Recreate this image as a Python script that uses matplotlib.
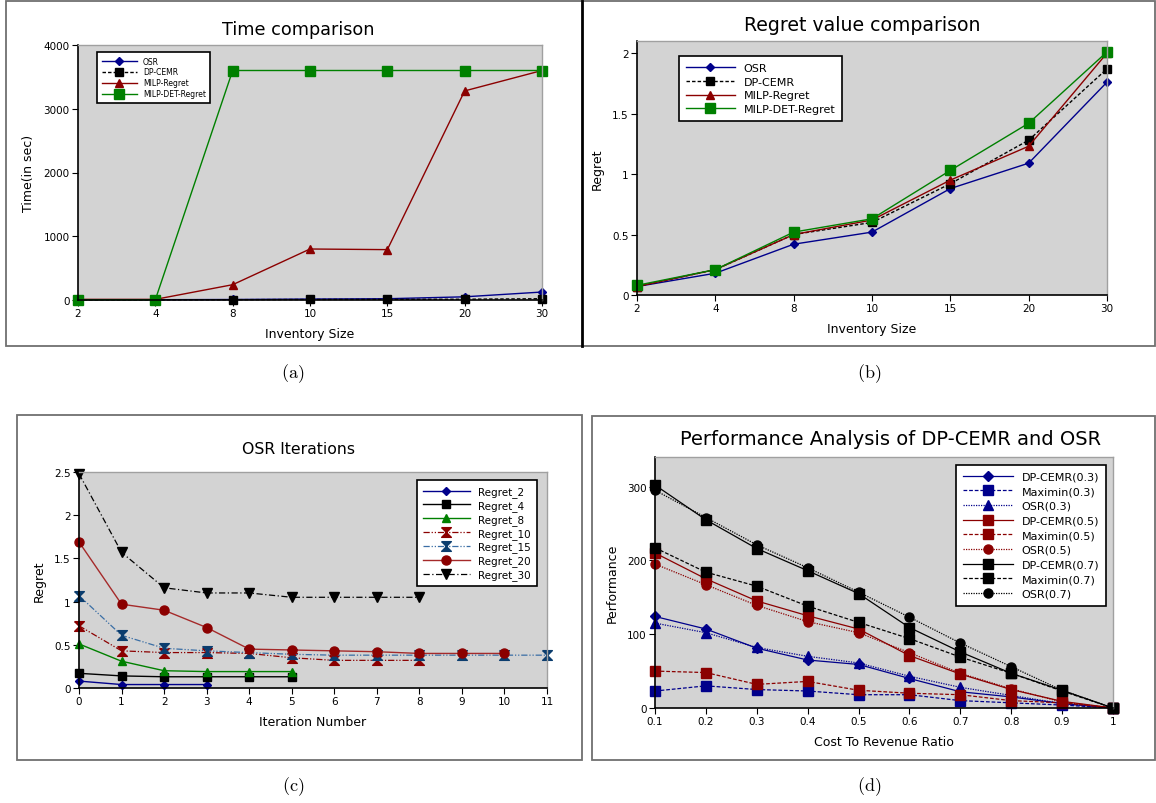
import matplotlib
matplotlib.use("Agg")
import matplotlib.pyplot as plt
from matplotlib.patches import Rectangle
from matplotlib.lines import Line2D

plt.rcParams['font.family'] = ['DejaVu Sans']
plt.rcParams['mathtext.fontset'] = 'cm'

# ---------------- data ----------------
inv_sizes = ["2", "4", "8", "10", "15", "20", "30"]

time_osr = [5, 5, 8, 15, 20, 50, 125]
time_dpcemr = [2, 3, 5, 8, 10, 12, 20]
time_milp = [10, 10, 240, 800, 790, 3280, 3600]
time_milpdet = [5, 5, 3600, 3600, 3600, 3600, 3600]

reg_osr = [0.07, 0.18, 0.42, 0.52, 0.88, 1.09, 1.76]
reg_dpcemr = [0.07, 0.21, 0.50, 0.60, 0.92, 1.28, 1.87]
reg_milp = [0.07, 0.21, 0.50, 0.62, 0.95, 1.23, 2.00]
reg_milpdet = [0.08, 0.21, 0.52, 0.63, 1.03, 1.42, 2.01]

regret_2 = [0.08, 0.04, 0.04, 0.04]
regret_4 = [0.17, 0.14, 0.13, 0.13, 0.13, 0.13]
regret_8 = [0.51, 0.31, 0.20, 0.19, 0.19, 0.19]
regret_10 = [0.72, 0.43, 0.41, 0.41, 0.40, 0.35, 0.32, 0.32, 0.32]
regret_15 = [1.07, 0.61, 0.46, 0.43, 0.41, 0.39, 0.38, 0.38, 0.38, 0.38, 0.38, 0.38]
regret_20 = [1.69, 0.97, 0.90, 0.70, 0.45, 0.44, 0.43, 0.42, 0.40, 0.40, 0.40]
regret_30 = [2.48, 1.57, 1.16, 1.10, 1.10, 1.05, 1.05, 1.05, 1.05]

ratios = [0.1, 0.2, 0.3, 0.4, 0.5, 0.6, 0.7, 0.8, 0.9, 1.0]
ratio_labels = ["0.1", "0.2", "0.3", "0.4", "0.5", "0.6", "0.7", "0.8", "0.9", "1"]
dpcemr_03 = [124, 107, 81, 65, 59, 40, 22, 15, 6, 0]
maximin_03 = [23, 30, 25, 23, 18, 18, 10, 7, 4, 0]
osr_03 = [115, 102, 82, 70, 61, 43, 28, 17, 6, 0]
dpcemr_05 = [210, 175, 145, 125, 107, 71, 46, 25, 9, 0]
maximin_05 = [50, 48, 32, 36, 24, 20, 18, 10, 7, 0]
osr_05 = [195, 167, 139, 117, 102, 75, 47, 26, 8, 0]
dpcemr_07 = [302, 255, 216, 186, 155, 109, 76, 47, 24, 0]
maximin_07 = [217, 184, 165, 138, 116, 94, 69, 47, 23, 0]
osr_07 = [295, 258, 221, 190, 157, 123, 88, 56, 24, 0]

# ---------------- figure ----------------
W, H = 1156, 804
fig = plt.figure(figsize=(W / 100, H / 100), dpi=100)

BG = "#d3d3d3"
NAVY = "#00008b"
DRED = "#8b0000"
GREEN = "#008000"


def px_axes(x0, y0, x1, y1):
    ax = fig.add_axes([x0 / W, 1 - y1 / H, (x1 - x0) / W, (y1 - y0) / H])
    ax.set_facecolor(BG)
    for s in ("top", "right"):
        ax.spines[s].set_color("#a0a0a0")
        ax.spines[s].set_linewidth(1.0)
    for s in ("left", "bottom"):
        ax.spines[s].set_color("black")
        ax.spines[s].set_linewidth(1.2)
    ax.tick_params(direction="out", length=4, width=0.8, labelsize=7.5, pad=2)
    return ax


def fx(x):
    return x / W


def fy(y):
    return 1 - y / H


# panel frames
fig.patches.append(Rectangle((fx(6), fy(347)), (1155 - 6) / W, (347 - 2) / H,
                             transform=fig.transFigure, fill=False, edgecolor="#707070", lw=1.3))
fig.lines.append(Line2D([fx(582), fx(582)], [fy(2), fy(347)], transform=fig.transFigure,
                        color="black", lw=2))
fig.patches.append(Rectangle((fx(17), fy(761)), (582 - 17) / W, (761 - 416) / H,
                             transform=fig.transFigure, fill=False, edgecolor="#707070", lw=1.3))
fig.patches.append(Rectangle((fx(592), fy(761)), (1155 - 592) / W, (761 - 417) / H,
                             transform=fig.transFigure, fill=False, edgecolor="#707070", lw=1.3))


def legend(ax, x, y, fs, hl, loc="upper left", ls=0.25):
    lg = ax.legend(loc=loc, bbox_to_anchor=(fx(x), fy(y)), bbox_transform=fig.transFigure,
                   fontsize=fs, handlelength=hl, frameon=True, fancybox=False,
                   borderpad=0.6, labelspacing=ls, handletextpad=0.8, borderaxespad=0)
    fr = lg.get_frame()
    fr.set_edgecolor("black")
    fr.set_linewidth(1.2)
    fr.set_facecolor("white")
    fr.set_alpha(1)
    return lg


# ---------------- (a) ----------------
axa = px_axes(78, 46, 542, 301)
xa = list(range(len(inv_sizes)))
axa.plot(xa, time_osr, color=NAVY, lw=1, marker="D", ms=4.5, label="OSR", clip_on=False)
axa.plot(xa, time_dpcemr, color="black", lw=1, ls=(0, (2.5, 1.5)), marker="s", ms=6,
         label="DP-CEMR", clip_on=False)
axa.plot(xa, time_milp, color=DRED, lw=1, marker="^", ms=6, label="MILP-Regret", clip_on=False)
axa.plot(xa, time_milpdet, color=GREEN, lw=1, marker="s", ms=6.5, label="MILP-DET-Regret",
         clip_on=False)
axa.set_xlim(0, 6)
axa.set_ylim(0, 4000)
axa.set_xticks(xa)
axa.set_xticklabels(inv_sizes)
axa.set_yticks([0, 1000, 2000, 3000, 4000])
axa.set_xlabel("Inventory Size", fontsize=9, labelpad=6)
axa.set_ylabel("Time(in sec)", fontsize=9, labelpad=6)
axa.set_title("Time comparison", fontsize=12.7, pad=8, x=0.475)
legend(axa, 97, 53, 5.5, 4.6)

# ---------------- (b) ----------------
axb = px_axes(637, 42, 1107, 296)
axb.plot(xa, reg_osr, color=NAVY, lw=1, marker="D", ms=4.5, label="OSR", clip_on=False)
axb.plot(xa, reg_dpcemr, color="black", lw=1, ls=(0, (2.5, 1.5)), marker="s", ms=6,
         label="DP-CEMR", clip_on=False)
axb.plot(xa, reg_milp, color=DRED, lw=1, marker="^", ms=6, label="MILP-Regret", clip_on=False)
axb.plot(xa, reg_milpdet, color=GREEN, lw=1, marker="s", ms=6.5, label="MILP-DET-Regret",
         clip_on=False)
axb.set_xlim(0, 6)
axb.set_ylim(0, 2.1)
axb.set_xticks(xa)
axb.set_xticklabels(inv_sizes)
axb.set_yticks([0, 0.5, 1, 1.5, 2])
axb.set_yticklabels(["0", "0.5", "1", "1.5", "2"])
axb.set_xlabel("Inventory Size", fontsize=9, labelpad=6)
axb.set_ylabel("Regret", fontsize=9, labelpad=6)
axb.set_title("Regret value comparison", fontsize=13.6, pad=8, x=0.48)
legend(axb, 679, 57, 8, 4.4, ls=0.35)

# ---------------- (c) ----------------
axc = px_axes(79, 473, 547, 689)
hour = [(-1, 1), (1, 1), (-1, -1), (1, -1), (-1, 1)]
axc.plot(range(len(regret_2)), regret_2, color=NAVY, lw=1, marker="D", ms=4.5,
         label="Regret_2", clip_on=False)
axc.plot(range(len(regret_4)), regret_4, color="black", lw=1, marker="s", ms=6,
         label="Regret_4", clip_on=False)
axc.plot(range(len(regret_8)), regret_8, color=GREEN, lw=1, marker="^", ms=6,
         label="Regret_8", clip_on=False)
axc.plot(range(len(regret_10)), regret_10, color=DRED, lw=0.9, ls=(0, (5, 1.5, 1, 1.5, 1, 1.5)),
         marker=hour, ms=7, label="Regret_10", clip_on=False)
axc.plot(range(len(regret_15)), regret_15, color="#3a6ea5", lw=0.9,
         ls=(0, (5, 1.5, 1, 1.5, 1, 1.5)), marker=hour, ms=7, mfc="#0b3d6e", mec="#0b3d6e",
         label="Regret_15", clip_on=False)
axc.plot(range(len(regret_20)), regret_20, color="#a52a2a", lw=1, marker="o", ms=6.5,
         mfc=DRED, mec=DRED, label="Regret_20", clip_on=False)
axc.plot(range(len(regret_30)), regret_30, color="black", lw=0.9, ls=(0, (5, 2, 1, 2)),
         marker="v", ms=6.5, label="Regret_30", clip_on=False)
axc.set_xlim(0, 11)
axc.set_ylim(0, 2.5)
axc.set_xticks(range(12))
axc.set_yticks([0, 0.5, 1, 1.5, 2, 2.5])
axc.set_yticklabels(["0", "0.5", "1", "1.5", "2", "2.5"])
axc.set_xlabel("Iteration Number", fontsize=9, labelpad=6)
axc.set_ylabel("Regret", fontsize=9, labelpad=6)
axc.set_title("OSR Iterations", fontsize=11.3, pad=14, x=0.47)
legend(axc, 537, 481, 7.5, 4.5, loc="upper right", ls=0.28)

# ---------------- (d) ----------------
axd = px_axes(655, 458, 1113, 709)
series_d = [
    (dpcemr_03, "DP-CEMR(0.3)", NAVY, "-", "D", 5),
    (maximin_03, "Maximin(0.3)", NAVY, (0, (3, 1.5)), "s", 6.5),
    (osr_03, "OSR(0.3)", NAVY, (0, (1, 1)), "^", 6.5),
    (dpcemr_05, "DP-CEMR(0.5)", DRED, "-", "s", 6.5),
    (maximin_05, "Maximin(0.5)", DRED, (0, (3, 1.5)), "s", 6.5),
    (osr_05, "OSR(0.5)", DRED, (0, (1, 1)), "o", 6.5),
    (dpcemr_07, "DP-CEMR(0.7)", "black", "-", "s", 6.5),
    (maximin_07, "Maximin(0.7)", "black", (0, (3, 1.5)), "s", 6.5),
    (osr_07, "OSR(0.7)", "black", (0, (1, 1)), "o", 6.5),
]
for vals, lab, col, ls, mk, ms in series_d:
    axd.plot(ratios, vals, color=col, ls=ls, lw=0.9, marker=mk, ms=ms, label=lab, clip_on=False)
axd.set_xlim(0.1, 1.0)
axd.set_ylim(0, 340)
axd.set_xticks(ratios)
axd.set_xticklabels(ratio_labels)
axd.set_yticks([0, 100, 200, 300])
axd.set_xlabel("Cost To Revenue Ratio", fontsize=9, labelpad=6)
axd.set_ylabel("Performance", fontsize=9, labelpad=6)
axd.set_title("Performance Analysis of DP-CEMR and OSR", fontsize=14, pad=9, x=0.515)
legend(axd, 956, 466, 8, 4.5, ls=0.42)

# captions
for lab, x, y in [("(a)", 293, 374), ("(b)", 869, 374), ("(c)", 293, 787), ("(d)", 869, 787)]:
    fig.text(fx(x), fy(y), r"$\mathrm{" + lab + "}$", fontsize=13, ha="center", va="center")

fig.savefig("out.png", dpi=100)
